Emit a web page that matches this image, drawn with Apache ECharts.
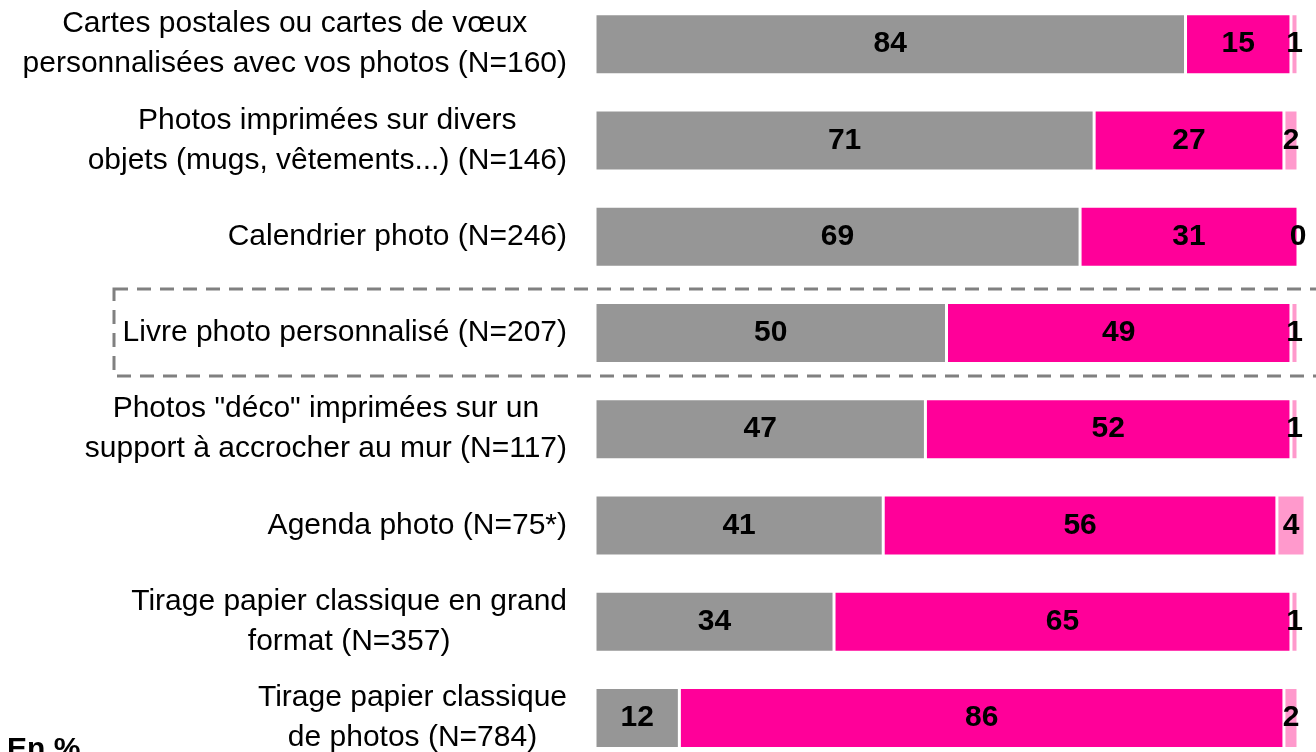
<!DOCTYPE html>
<html>
<head>
<meta charset="utf-8">
<script src="https://cdn.jsdelivr.net/npm/echarts@6/dist/echarts.min.js"></script>
<style>
  html, body { margin: 0; padding: 0; background: #fff; overflow: hidden; }
  /* taller than the window and shifted up so the category bands match */
  #chart { width: 1316px; height: 770px; margin-top: -4px; }
</style>
</head>
<body>
<div id="chart"></div>
<script>
// categories, top to bottom
const categories = [
  'Cartes postales ou cartes de vœux\npersonnalisées avec vos photos (N=160)',
  'Photos imprimées sur divers\nobjets (mugs, vêtements...) (N=146)',
  'Calendrier photo (N=246)',
  'Livre photo personnalisé (N=207)',
  'Photos "déco" imprimées sur un\nsupport à accrocher au mur (N=117)',
  'Agenda photo (N=75*)',
  'Tirage papier classique en grand\nformat (N=357)',
  'Tirage papier classique\nde photos (N=784)'
];
const greyValues = [84, 71, 69, 50, 47, 41, 34, 12];
const magentaValues = [15, 27, 31, 49, 52, 56, 65, 86];
const pinkValues = [1, 2, 0, 1, 1, 4, 1, 2];

const font = 'Arial, "Liberation Sans", sans-serif';

const chartDom = document.getElementById('chart');
const myChart = echarts.init(chartDom);

function barSeries(name, data, color) {
  return {
    name: name,
    type: 'bar',
    stack: 'total',
    data: data,
    barWidth: 61,
    clip: false,
    itemStyle: {
      color: color,
      borderColor: '#fff',
      borderWidth: 1.5
    },
    label: {
      show: true,
      position: 'inside',
      color: '#000',
      fontFamily: font,
      fontWeight: 'bold',
      fontSize: 30
    }
  };
}

let option = {
  animation: false,
  grid: {
    left: 595,
    right: 18,
    top: 0,
    bottom: 0,
    containLabel: false
  },
  xAxis: {
    type: 'value',
    min: 0,
    max: 100,
    show: false
  },
  yAxis: {
    type: 'category',
    inverse: true,
    data: categories,
    axisLine: { show: false },
    axisTick: { show: false },
    axisLabel: {
      margin: 28,
      align: 'right',
      formatter: function (val) {
        return val.split('\n').map(l => '{c|' + l + '}').join('\n');
      },
      rich: {
        c: {
          align: 'center',
          fontFamily: font,
          fontSize: 30,
          lineHeight: 40,
          color: '#000'
        }
      }
    }
  },
  graphic: [
    {
      type: 'rect',
      shape: { x: 114, y: 293, width: 1230, height: 87 },
      style: { fill: 'none', stroke: '#808080', lineWidth: 3, lineDash: [14, 9] },
      z: 10
    },
    {
      type: 'text',
      left: 7,
      top: 739,
      style: { text: 'En %', fontFamily: font, fontWeight: 'bold', fontSize: 30, fill: '#000' }
    }
  ],
  series: [
    barSeries('grey', greyValues, '#969696'),
    barSeries('magenta', magentaValues, '#ff0099'),
    barSeries('pink', pinkValues, '#ff99cc')
  ]
};

myChart.setOption(option);
</script>
</body>
</html>
